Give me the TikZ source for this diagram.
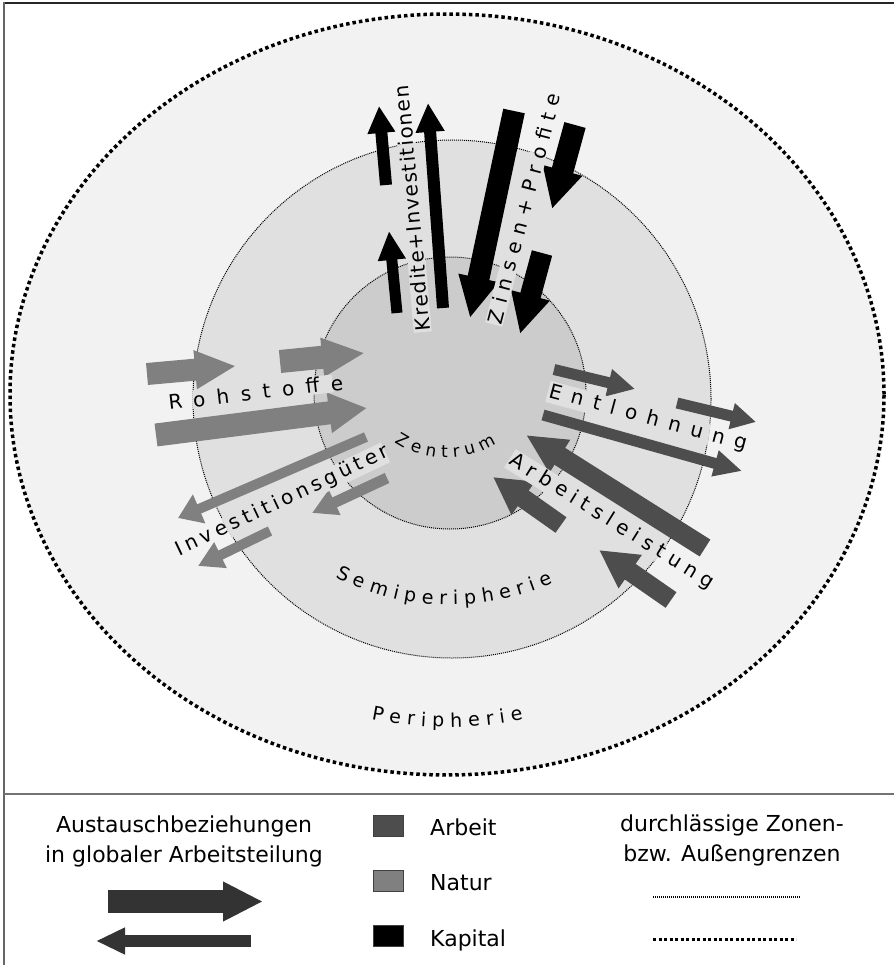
\documentclass[tikz,border=0pt]{standalone}
\usepackage{fontspec}
\setmainfont{DejaVu Sans}
\newfontfamily\df{DejaVu Sans}
\usetikzlibrary{arrows.meta,decorations.text}
\definecolor{periph}{HTML}{F2F2F2}
\definecolor{semi}{HTML}{E0E0E0}
\definecolor{zent}{HTML}{CCCCCC}
\definecolor{natur}{HTML}{808080}
\definecolor{arbeit}{HTML}{4D4D4D}
\definecolor{legarrow}{HTML}{333333}
\pgfdeclarelayer{txt}
\pgfsetlayers{main,txt}
\newcommand\spaced[2]{{\addfontfeatures{LetterSpace=#1}#2}\kern-\dimexpr#1\fontdimen6\font/100\relax}
\tikzset{
  fat/.style n args={3}{line width=#1pt,-{Triangle[length=#2pt,width=#3pt]}},
  lbl/.style={inner sep=1pt,text=black,font=\df\fontsize{20}{24}\selectfont},
  legtxt/.style={inner sep=0pt,text=black,font=\df\fontsize{22}{30}\selectfont},
  sq/.style={draw=black!75,line width=0.8pt,minimum width=30pt,minimum height=21pt,inner sep=0pt},
  finedot/.style={line width=1pt,dash pattern=on 1pt off 1pt},
  thickdot/.style={line width=3.5pt,dash pattern=on 3.5pt off 3pt},
}
% label on the text layer, with a background visible only inside the semiperiphery circle
\newcommand\lab[5]{%
  \begin{pgfonlayer}{txt}
    \node[lbl,rotate=#3] (#1) at #2 {\spaced{#4}{#5}};
  \end{pgfonlayer}
  \begin{scope}
    \clip (452,399) circle [radius=259.5pt];
    \fill[semi] (#1.north west) -- (#1.north east) -- (#1.south east) -- (#1.south west) -- cycle;
  \end{scope}}
\begin{document}
\begin{tikzpicture}[x=1pt,y=-1pt]
\useasboundingbox (0,0) rectangle (894,965);
\fill[white] (0,0) rectangle (894,965);
% zones
\fill[periph] (447,394.5) ellipse [x radius=437pt,y radius=380.5pt];
\fill[semi] (452,399) circle [radius=259pt];
\fill[zent] (450,393) circle [radius=136pt];
\draw[finedot] (452,399) circle [radius=259pt];
\draw[finedot] (450,393) circle [radius=136pt];
\draw[thickdot] (447,394.5) ellipse [x radius=437pt,y radius=380.5pt];
% frame
\draw[line width=1.5pt,black!85] (3,3) -- (894,3);
\draw[line width=2pt,black!60] (4,2) -- (4,965);
\draw[line width=1.5pt,black!55] (4,794) -- (894,794);
% coordinates of arrows
\coordinate (k1a) at (386,185); \coordinate (k1b) at (379,106);
\coordinate (k2a) at (443,308); \coordinate (k2b) at (428,103);
\coordinate (k3a) at (397,313); \coordinate (k3b) at (389,231);
\coordinate (k4a) at (514,111); \coordinate (k4b) at (470,318);
\coordinate (k5a) at (575,125); \coordinate (k5b) at (552,209);
\coordinate (k6a) at (542,253); \coordinate (k6b) at (520,334);
\coordinate (n1a) at (147,374); \coordinate (n1b) at (236,366);
\coordinate (n2a) at (280,361.5); \coordinate (n2b) at (365,353);
\coordinate (n3a) at (156,435); \coordinate (n3b) at (367,408);
\coordinate (n4a) at (366,437); \coordinate (n4b) at (178,518);
\coordinate (n5a) at (387,478); \coordinate (n5b) at (312,513);
\coordinate (n6a) at (270,531); \coordinate (n6b) at (198,566);
\coordinate (a1a) at (554,369.5); \coordinate (a1b) at (635,389);
\coordinate (a2a) at (677,403); \coordinate (a2b) at (756,422);
\coordinate (a3a) at (543,415); \coordinate (a3b) at (742,471);
\coordinate (a4a) at (705,548); \coordinate (a4b) at (526,435);
\coordinate (a5a) at (561,525); \coordinate (a5b) at (493,477);
\coordinate (a6a) at (671,600); \coordinate (a6b) at (599,550);
% Kapital
\draw[black,fat={12}{27}{26}] (k1a) -- (k1b);
\draw[black,fat={12}{29}{27}] (k2a) -- (k2b);
\draw[black,fat={11}{29}{26}] (k3a) -- (k3b);
\draw[black,fat={22}{41}{38}] (k4a) -- (k4b);
\draw[black,fat={22}{40}{38}] (k5a) -- (k5b);
\draw[black,fat={21}{40}{37}] (k6a) -- (k6b);
% Natur
\draw[natur,fat={22}{41}{36}] (n1a) -- (n1b);
\draw[natur,fat={23}{43}{36}] (n2a) -- (n2b);
\draw[natur,fat={23}{38}{38}] (n3a) -- (n3b);
\draw[natur,fat={10}{23}{30}] (n4a) -- (n4b);
\draw[natur,fat={11}{25}{26}] (n5a) -- (n5b);
\draw[natur,fat={10}{25}{27}] (n6a) -- (n6b);
% Arbeit
\draw[arbeit,fat={11}{27}{26}] (a1a) -- (a1b);
\draw[arbeit,fat={11}{25}{25}] (a2a) -- (a2b);
\draw[arbeit,fat={11}{28}{25}] (a3a) -- (a3b);
\draw[arbeit,fat={20}{40}{36}] (a4a) -- (a4b);
\draw[arbeit,fat={19}{37}{38}] (a5a) -- (a5b);
\draw[arbeit,fat={19}{38}{38}] (a6a) -- (a6b);
% straight labels
\lab{roh}{(250,393)}{6.6}{58}{Rohstoffe}
\lab{kred}{(412,209)}{95}{7}{Kredite+Investitionen}
\lab{zins}{(523,212)}{75.4}{37}{Zinsen+Profite}
\lab{entl}{(643,417)}{-15.1}{50}{Entlohnung}
\lab{arbl}{(609,520)}{-31.9}{31}{Arbeitsleistung}
\lab{inv}{(281,502)}{25.4}{20}{Investitionsgüter}
% curved labels
\path[decorate,decoration={text along path,text align={fit to path},
  text={|\df\fontsize{17}{17}\selectfont|Zentrum}}]
  plot[domain=0:1,samples=30,variable=\t] ({446+92*cos(124-67*\t)},{366+92*sin(124-67*\t)});
\path[decorate,decoration={text along path,text align={fit to path},
  text={|\df\fontsize{19}{19}\selectfont|Semiperipherie}}]
  plot[domain=0:1,samples=40,variable=\t] ({450+248*cos(117.5-52*\t)},{357+248*sin(117.5-52*\t)});
\path[decorate,decoration={text along path,text align={fit to path},
  text={|\df\fontsize{19}{19}\selectfont|Peripherie}}]
  plot[domain=0:1,samples=40,variable=\t] ({447+390*cos(101.2-22.5*\t)},{337+390*sin(101.2-22.5*\t)});
% legend
\node[legtxt,align=center] (leg1) at (184,841) {Austauschbeziehungen\\in globaler Arbeitsteilung};
\coordinate (la1) at (108,901.5); \coordinate (lb1) at (263,901.5);
\draw[legarrow,fat={23}{40}{37}] (la1) -- (lb1);
\coordinate (la2) at (251,941); \coordinate (lb2) at (96,941);
\draw[legarrow,fat={12}{29}{25}] (la2) -- (lb2);
\node[sq,fill=arbeit] (sqA) at (388,825.5) {};
\node[sq,fill=natur] (sqN) at (388,880.5) {};
\node[sq,fill=black] (sqK) at (388,935.5) {};
\node[legtxt,anchor=base west] (tA) at (430,835) {Arbeit};
\node[legtxt,anchor=base west] (tN) at (430,890) {Natur};
\node[legtxt,anchor=base west] (tK) at (430,946) {Kapital};
\node[legtxt,align=center] (leg2) at (732,840) {durchlässige Zonen-\\bzw. Außengrenzen};
\coordinate (d1a) at (653,897); \coordinate (d1b) at (801,897);
\draw[line width=1.2pt,dash pattern=on 1pt off 1pt] (d1a) -- (d1b);
\coordinate (d2a) at (653,939); \coordinate (d2b) at (796,939);
\draw[line width=3pt,dash pattern=on 3pt off 2.5pt] (d2a) -- (d2b);
\end{tikzpicture}
\end{document}
